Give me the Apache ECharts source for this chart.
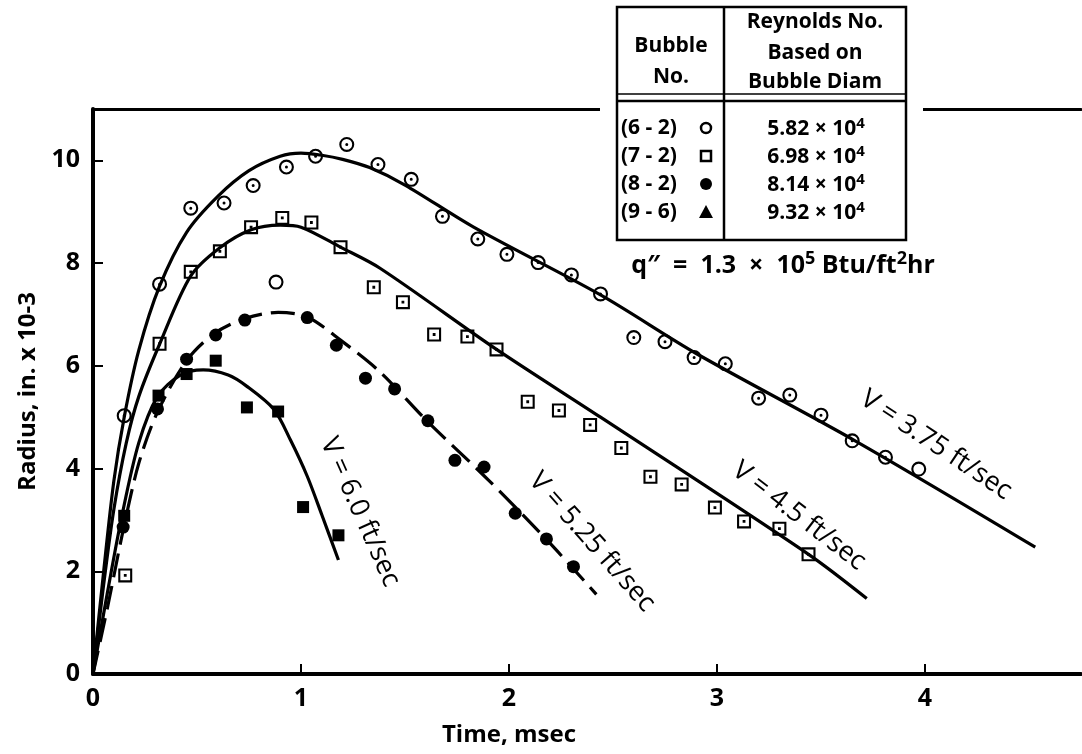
<!DOCTYPE html>
<html>
<head>
<meta charset="utf-8">
<script src="https://cdn.jsdelivr.net/npm/echarts@6/dist/echarts.min.js"></script>
<style>
html,body{margin:0;padding:0;background:#fff;}
#chart{width:1082px;height:754px;}
</style>
</head>
<body>
<div id="chart"></div>
<script>
// ---------- data ----------
const xTicks = [0, 1, 2, 3, 4];
const yTicks = [0, 2, 4, 6, 8, 10];

const bubbleNames = ['(6 - 2)', '(7 - 2)', '(8 - 2)', '(9 - 6)'];
const reynoldsMant = ['5.82 × 10', '6.98 × 10', '8.14 × 10', '9.32 × 10'];
const reynoldsExp = ['4', '4', '4', '4'];

// bubble (6-2): open circles with centre dot
const bubble62 = [[0.15,5.03],[0.32,7.59],[0.47,9.07],[0.63,9.17],[0.77,9.51],[0.93,9.87],[1.07,10.08],[1.22,10.31],[1.37,9.92],[1.53,9.63],[1.68,8.91],[1.85,8.47],[1.99,8.17],[2.14,8.01],[2.30,7.77],[2.44,7.40],[2.60,6.55],[2.75,6.47],[2.89,6.16],[3.04,6.04],[3.20,5.37],[3.35,5.43],[3.50,5.04],[3.65,4.54],[3.81,4.22]];
// open circles without dot
const bubble62plain = [[0.88,7.63],[3.97,3.99]];
// bubble (7-2): open squares with centre dot
const bubble72 = [[0.155,1.92],[0.32,6.43],[0.47,7.83],[0.61,8.23],[0.76,8.70],[0.91,8.88],[1.05,8.79],[1.19,8.31],[1.35,7.53],[1.49,7.24],[1.64,6.61],[1.80,6.57],[1.94,6.32],[2.09,5.30],[2.24,5.13],[2.39,4.85],[2.54,4.40],[2.68,3.84],[2.83,3.69],[2.99,3.24],[3.13,2.97],[3.30,2.83],[3.44,2.33]];
// bubble (8-2): filled circles
const bubble82 = [[0.145,2.86],[0.31,5.16],[0.45,6.13],[0.59,6.60],[0.73,6.89],[1.03,6.94],[1.17,6.40],[1.31,5.76],[1.45,5.55],[1.61,4.93],[1.74,4.16],[1.88,4.03],[2.03,3.13],[2.18,2.63],[2.31,2.09]];
// bubble (9-6): filled squares
const bubble96 = [[0.15,3.08],[0.315,5.42],[0.45,5.84],[0.59,6.10],[0.74,5.19],[0.89,5.11],[1.01,3.25],[1.18,2.70]];

// fitted curves
const curveV375 = [[0,0],[0.05,1.95],[0.1,3.75],[0.15,5.0],[0.22,6.3],[0.32,7.55],[0.45,8.6],[0.6,9.3],[0.75,9.8],[0.9,10.08],[1.0,10.14],[1.1,10.1],[1.2,10.02],[1.33,9.86],[1.5,9.52],[1.83,8.7],[2.44,7.38],[2.9,6.24],[3.66,4.55],[4.53,2.47]];
const curveV45  = [[0,0],[0.05,1.7],[0.1,3.2],[0.16,4.5],[0.22,5.4],[0.32,6.42],[0.47,7.75],[0.61,8.3],[0.76,8.65],[0.9,8.74],[1.0,8.7],[1.19,8.31],[1.38,7.9],[1.94,6.32],[2.44,5.0],[3.44,2.33],[3.72,1.47]];
const curveV525 = [[0,0],[0.07,1.3],[0.145,2.8],[0.22,4.1],[0.31,5.1],[0.45,6.1],[0.58,6.62],[0.73,6.92],[0.89,7.04],[1.03,6.95],[1.19,6.5],[1.38,5.88],[1.6,4.95],[1.9,3.78],[2.18,2.62],[2.42,1.55]];
const curveV60  = [[0,0],[0.07,1.6],[0.14,3.1],[0.22,4.5],[0.31,5.4],[0.42,5.82],[0.53,5.92],[0.65,5.82],[0.74,5.6],[0.87,5.15],[0.95,4.55],[1.03,3.85],[1.1,3.1],[1.18,2.22]];

const curveLabels = ['V = 6.0 ft/sec', 'V = 5.25 ft/sec', 'V = 4.5 ft/sec', 'V = 3.75 ft/sec'];

// ---------- styling ----------
const FONT = "'Open Sans', 'DejaVu Sans', sans-serif";
const SYM_RING_DOT = 'path://M0,-10A10,10,0,1,1,0,10A10,10,0,1,1,0,-10ZM0,-7.2A7.2,7.2,0,1,0,0,7.2A7.2,7.2,0,1,0,0,-7.2ZM0,-2A2,2,0,1,1,0,2A2,2,0,1,1,0,-2Z';
const SYM_RING = 'path://M0,-10A10,10,0,1,1,0,10A10,10,0,1,1,0,-10ZM0,-7.2A7.2,7.2,0,1,0,0,7.2A7.2,7.2,0,1,0,0,-7.2Z';
const SYM_SQ_DOT = 'path://M-10,-10L10,-10L10,10L-10,10ZM-7,-7L-7,7L7,7L7,-7ZM-2,-2L2,-2L2,2L-2,2Z';

function curve(data, dashed) {
  return {
    type: 'line', data: data, smooth: 0.3,
    showSymbol: false, silent: true, z: 2,
    lineStyle: { color: '#000', width: 3.2, type: dashed ? [24, 9] : 'solid', cap: 'butt' }
  };
}
function pts(data, symbol, size) {
  return {
    type: 'scatter', data: data, symbol: symbol, symbolSize: size, silent: true, z: 3,
    itemStyle: { color: '#000', opacity: 1 }
  };
}

const chart = echarts.init(document.getElementById('chart'), null, { renderer: 'canvas' });

// legend table geometry
const T = { x: 617, y: 7, w: 289, h: 233, col: 724 };
const rowY = [128, 156, 184, 212];

const graphics = [];
graphics.push({ type: 'rect', shape: { x: 600, y: 98, width: 323, height: 24 }, style: { fill: '#fff' }, z: 50 });
graphics.push({ type: 'rect', shape: { x: T.x, y: T.y, width: T.w, height: T.h }, style: { fill: '#fff', stroke: '#000', lineWidth: 2.5 }, z: 51 });
graphics.push({ type: 'line', shape: { x1: T.col, y1: T.y, x2: T.col, y2: T.y + T.h }, style: { stroke: '#000', lineWidth: 2.5 }, z: 52 });
graphics.push({ type: 'line', shape: { x1: T.x, y1: 94, x2: T.x + T.w, y2: 94 }, style: { stroke: '#000', lineWidth: 1.5 }, z: 52 });
graphics.push({ type: 'line', shape: { x1: T.x, y1: 101, x2: T.x + T.w, y2: 101 }, style: { stroke: '#000', lineWidth: 2.5 }, z: 52 });

function txt(text, x, y, size, opts) {
  opts = opts || {};
  return {
    type: 'text', x: x, y: y, rotation: opts.rotation || 0, z: 60,
    style: {
      text: text, fill: '#000', fontFamily: FONT, fontSize: size,
      fontWeight: opts.weight || 'normal',
      align: opts.align || 'center', verticalAlign: 'middle',
      rich: opts.rich
    }
  };
}
const hdr = 21;
graphics.push(txt('Bubble', 671, 46, hdr, { weight: 'bold' }));
graphics.push(txt('No.', 671, 77, hdr, { weight: 'bold' }));
graphics.push(txt('Reynolds No.', 815, 22, hdr, { weight: 'bold' }));
graphics.push(txt('Based on', 815, 53, hdr, { weight: 'bold' }));
graphics.push(txt('Bubble Diam', 815, 82, hdr, { weight: 'bold' }));

const supRich = {
  a: { fontFamily: FONT, fontSize: 21, fontWeight: 'bold', lineHeight: 24, verticalAlign: 'bottom' },
  s: { fontFamily: FONT, fontSize: 15, fontWeight: 'bold', lineHeight: 24, verticalAlign: 'top', padding: [0, 0, 8, 0] }
};
for (let i = 0; i < bubbleNames.length; i++) {
  graphics.push(txt(bubbleNames[i], 621, rowY[i], hdr, { align: 'left', weight: 'bold' }));
  graphics.push(txt('{a|' + reynoldsMant[i] + '}{s|' + reynoldsExp[i] + '}', 816, rowY[i], hdr, { rich: supRich }));
}
const mx = 706;
graphics.push({ type: 'circle', shape: { cx: mx, cy: rowY[0], r: 5 }, style: { fill: '#fff', stroke: '#000', lineWidth: 2.5 }, z: 60 });
graphics.push({ type: 'rect', shape: { x: mx - 5, y: rowY[1] - 5, width: 10, height: 10 }, style: { fill: '#fff', stroke: '#000', lineWidth: 2.5 }, z: 60 });
graphics.push({ type: 'circle', shape: { cx: mx, cy: rowY[2], r: 6 }, style: { fill: '#000' }, z: 60 });
graphics.push({ type: 'polygon', shape: { points: [[mx, rowY[3] - 7], [mx + 7, rowY[3] + 6], [mx - 7, rowY[3] + 6]] }, style: { fill: '#000' }, z: 60 });

graphics.push(txt('{a|q″  =  1.3  ×  10}{s|5}{a| Btu/ft}{s|2}{a|hr}', 783, 264, 25, {
  rich: {
    a: { fontFamily: FONT, fontSize: 25, fontWeight: 'bold', lineHeight: 28, verticalAlign: 'bottom' },
    s: { fontFamily: FONT, fontSize: 18, fontWeight: 'bold', lineHeight: 28, verticalAlign: 'top', padding: [0, 0, 8, 0] }
  }
}));

const labelPos = [[360, 512, 66], [592, 542, 48.5], [799, 516, 37.5], [936, 445, 33.7]];
for (let i = 0; i < curveLabels.length; i++) {
  const p = labelPos[i];
  graphics.push(txt(curveLabels[i], p[0], p[1], 27, { rotation: -p[2] * Math.PI / 180 }));
}

const option = {
  backgroundColor: '#fff',
  animation: false,
  grid: { left: 93, right: 1, top: 109, bottom: 80, containLabel: false },
  xAxis: [{
    type: 'value', min: 0, max: 4.75, interval: 1,
    name: 'Time, msec', nameLocation: 'middle', nameGap: 49,
    nameTextStyle: { fontFamily: FONT, fontSize: 24, color: '#000', fontWeight: 'bold', padding: [0, 156, 0, 0] },
    axisLine: { onZero: false, lineStyle: { color: '#000', width: 4 } },
    axisTick: { inside: true, length: 10, lineStyle: { color: '#000', width: 2 } },
    axisLabel: { showMaxLabel: false, color: '#000', fontFamily: FONT, fontSize: 25, fontWeight: 'bold', margin: 12,
      formatter: v => xTicks.indexOf(v) >= 0 ? String(v) : '' },
    splitLine: { show: false }
  }, {
    type: 'value', min: 0, max: 4.75, position: 'top',
    axisLine: { onZero: false, lineStyle: { color: '#000', width: 3 } },
    axisTick: { show: false }, axisLabel: { show: false }, splitLine: { show: false }
  }],
  yAxis: {
    type: 'value', min: 0, max: 11, interval: 2,
    name: 'Radius, in. x 10-3', nameLocation: 'middle', nameGap: 52,
    nameTextStyle: { fontFamily: FONT, fontSize: 24, color: '#000', fontWeight: 'bold' },
    axisLine: { onZero: false, lineStyle: { color: '#000', width: 4 } },
    axisTick: { inside: true, length: 10, lineStyle: { color: '#000', width: 2 } },
    axisLabel: { showMaxLabel: false, color: '#000', fontFamily: FONT, fontSize: 25, fontWeight: 'bold', margin: 13,
      formatter: v => yTicks.indexOf(v) >= 0 ? String(v) : '' },
    splitLine: { show: false }
  },
  series: [
    curve(curveV375, false),
    curve(curveV45, false),
    curve(curveV525, true),
    curve(curveV60, false),
    pts(bubble62, SYM_RING_DOT, 15),
    pts(bubble62plain, SYM_RING, 15),
    pts(bubble72, SYM_SQ_DOT, 14),
    pts(bubble82, 'circle', 13),
    pts(bubble96, 'rect', 12)
  ],
  graphic: { elements: graphics }
};
chart.setOption(option);
</script>
</body>
</html>
